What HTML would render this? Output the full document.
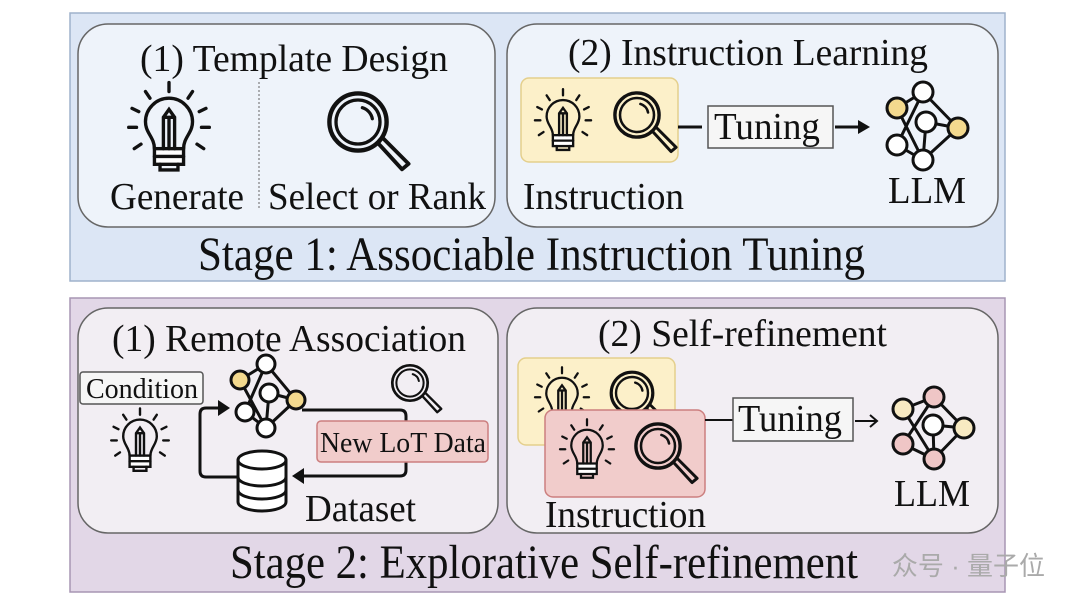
<!DOCTYPE html>
<html><head><meta charset="utf-8"><style>
body{margin:0;background:#fff;}
svg{display:block}
text{font-family:"Liberation Serif",serif;fill:#111}
</style></head><body>
<svg width="1080" height="609" viewBox="0 0 1080 609" xmlns="http://www.w3.org/2000/svg">
<defs>
<g id="bulb" fill="none" stroke="#111" stroke-width="3" stroke-linecap="round">
  <path d="M-13,22 C-13,12 -21,8 -21,-2 A21,21 0 1 1 21,-2 C21,8 13,12 13,22"/>
  <rect x="-13" y="22" width="26" height="14" fill="#fff"/>
  <line x1="-13" y1="29" x2="13" y2="29"/>
  <path d="M-8,36 L-8,41 L8,41 L8,36"/>
  <path d="M-5,22 L-5,-6 L0,-13 L5,-6 L5,22 M-5,-6 L5,-6 M0,-6 L0,22"/>
  <line x1="0" y1="-29" x2="0" y2="-37"/><line x1="-17" y1="-23" x2="-21" y2="-29"/><line x1="17" y1="-23" x2="21" y2="-29"/>
  <line x1="-27" y1="-11" x2="-33" y2="-14"/><line x1="27" y1="-11" x2="33" y2="-14"/>
  <line x1="-29" y1="3" x2="-36" y2="3"/><line x1="29" y1="3" x2="36" y2="3"/>
  <line x1="-25" y1="18" x2="-31" y2="22"/><line x1="25" y1="18" x2="31" y2="22"/>
</g>
<g id="mag" fill="none" stroke="#111" stroke-linecap="round">
  <circle cx="0" cy="0" r="26" stroke-width="4"/>
  <circle cx="0" cy="0" r="20" stroke-width="3"/>
  <path d="M4,-13 A13,13 0 0 1 13,-3" stroke-width="3"/>
  <path d="M18,19 L40,43 L46,38 L23,15" stroke-width="3.5" stroke-linejoin="round"/>
</g>
</defs>

<!-- Stage 1 -->
<rect x="70" y="13" width="935" height="268" fill="#dce6f5" stroke="#9fb2cc" stroke-width="1.5"/>
<rect x="78" y="24" width="417" height="203" rx="30" fill="#eef3fa" stroke="#666" stroke-width="1.5"/>
<rect x="507" y="24" width="491" height="203" rx="30" fill="#eef3fa" stroke="#666" stroke-width="1.5"/>
<text x="140" y="71" font-size="38" textLength="308" lengthAdjust="spacingAndGlyphs">(1) Template Design</text>
<text x="568" y="65" font-size="38" textLength="360" lengthAdjust="spacingAndGlyphs">(2) Instruction Learning</text>
<line x1="259" y1="82" x2="259" y2="208" stroke="#666" stroke-width="1" stroke-dasharray="2,2"/>
<use href="#bulb" transform="translate(169,124) scale(1.12)"/>
<use href="#mag" transform="translate(358,122) scale(1.1)"/>
<text x="110" y="209" font-size="38" textLength="134" lengthAdjust="spacingAndGlyphs">Generate</text>
<text x="268" y="209" font-size="38" textLength="218" lengthAdjust="spacingAndGlyphs">Select or Rank</text>
<rect x="521" y="78" width="157" height="84" rx="8" fill="#fcf0c9" stroke="#e4cf8c" stroke-width="1.5"/>
<use href="#bulb" transform="translate(563,118) scale(0.78)"/>
<use href="#mag" transform="translate(637,115) scale(0.85)"/>
<text x="523" y="209" font-size="38" textLength="161" lengthAdjust="spacingAndGlyphs">Instruction</text>
<line x1="678" y1="127" x2="702" y2="127" stroke="#111" stroke-width="3"/>
<rect x="708" y="106" width="125" height="42" fill="#f6f6f6" stroke="#555" stroke-width="1.5"/>
<text x="714" y="139" font-size="38" textLength="106" lengthAdjust="spacingAndGlyphs">Tuning</text>
<line x1="835" y1="127" x2="862" y2="127" stroke="#111" stroke-width="3"/>
<path d="M858,120 L870,127 L858,134 Z" fill="#111"/>
<g stroke="#111" stroke-width="3" fill="#fff">
  <path d="M897,108 L923,92 M897,108 L923,160 M897,145 L923,92 M897,145 L923,160 M923,92 L958,128 M926,122 L958,128 M926,122 L923,160 M923,160 L958,128" fill="none"/>
  <circle cx="923" cy="92" r="10"/><circle cx="926" cy="122" r="10"/><circle cx="923" cy="160" r="10"/><circle cx="897" cy="145" r="10"/>
  <circle cx="897" cy="108" r="10" fill="#f3d98e"/><circle cx="958" cy="128" r="10" fill="#f3d98e"/>
</g>
<text x="888" y="203" font-size="38" textLength="78" lengthAdjust="spacingAndGlyphs">LLM</text>
<text x="198" y="270" font-size="48" textLength="667" lengthAdjust="spacingAndGlyphs">Stage 1: Associable Instruction Tuning</text>

<!-- Stage 2 -->
<rect x="70" y="298" width="935" height="294" fill="#e2d7e7" stroke="#a795b3" stroke-width="1.5"/>
<rect x="78" y="308" width="420" height="225" rx="30" fill="#f2eef3" stroke="#666" stroke-width="1.5"/>
<rect x="507" y="308" width="491" height="225" rx="30" fill="#f2eef3" stroke="#666" stroke-width="1.5"/>
<text x="112" y="351" font-size="38" textLength="354" lengthAdjust="spacingAndGlyphs">(1) Remote Association</text>
<text x="598" y="346" font-size="38" textLength="289" lengthAdjust="spacingAndGlyphs">(2) Self-refinement</text>
<rect x="80" y="372" width="123" height="32" rx="3" fill="#f6f6f6" stroke="#555" stroke-width="1.5"/>
<text x="86" y="398" font-size="28" textLength="112" lengthAdjust="spacingAndGlyphs">Condition</text>
<use href="#bulb" transform="translate(140,438) scale(0.8)"/>
<g stroke="#111" stroke-width="3" fill="#fff">
  <path d="M240,380 L266,364 M240,380 L266,428 M245,412 L266,364 M245,412 L266,428 M266,364 L296,400 M269,393 L296,400 M269,393 L266,428 M266,428 L296,400" fill="none"/>
  <circle cx="266" cy="364" r="9"/><circle cx="269" cy="393" r="9"/><circle cx="266" cy="428" r="9"/><circle cx="245" cy="412" r="9"/>
  <circle cx="240" cy="380" r="9" fill="#f3d98e"/><circle cx="296" cy="400" r="9" fill="#f3d98e"/>
</g>
<use href="#mag" transform="translate(410,383) scale(0.68)"/>
<path d="M302,410 L400,410 Q406,410 406,416 L406,470 Q406,476 400,476 L300,476" fill="none" stroke="#111" stroke-width="3"/>
<path d="M304,468 L292,476 L304,484 Z" fill="#111"/>
<path d="M248,477 L206,477 Q200,477 200,471 L200,414 Q200,408 206,408 L222,408" fill="none" stroke="#111" stroke-width="3"/>
<path d="M218,400 L230,408 L218,416 Z" fill="#111"/>
<rect x="317" y="421" width="171" height="41" rx="4" fill="#f1cccb" stroke="#cc7f7f" stroke-width="1.5"/>
<text x="320" y="452" font-size="28" textLength="166" lengthAdjust="spacingAndGlyphs">New LoT Data</text>
<g fill="#fff" stroke="#111" stroke-width="3">
  <path d="M238,460 L238,502 A24,9 0 0 0 286,502 L286,460"/>
  <path d="M238,477 A24,9 0 0 0 286,477 M238,490 A24,9 0 0 0 286,490" fill="none"/>
  <ellipse cx="262" cy="460" rx="24" ry="9"/>
</g>
<text x="305" y="521" font-size="38" textLength="111" lengthAdjust="spacingAndGlyphs">Dataset</text>

<rect x="518" y="358" width="157" height="87" rx="8" fill="#fcf0c9" stroke="#e4cf8c" stroke-width="1.5"/>
<use href="#bulb" transform="translate(562,395) scale(0.75)"/>
<use href="#mag" transform="translate(632,393) scale(0.8)"/>
<rect x="545" y="410" width="160" height="87" rx="8" fill="#f1cccb" stroke="#cc7f7f" stroke-width="1.5"/>
<use href="#bulb" transform="translate(587,447) scale(0.75)"/>
<use href="#mag" transform="translate(658,446) scale(0.85)"/>
<text x="545" y="527" font-size="38" textLength="161" lengthAdjust="spacingAndGlyphs">Instruction</text>
<line x1="705" y1="420" x2="733" y2="420" stroke="#111" stroke-width="2"/>
<rect x="733" y="398" width="120" height="43" fill="#f6f6f6" stroke="#555" stroke-width="1.5"/>
<text x="738" y="431" font-size="38" textLength="104" lengthAdjust="spacingAndGlyphs">Tuning</text>
<path d="M855,421 L877,421 M870,415 L877,421 L870,427" fill="none" stroke="#111" stroke-width="2"/>
<g stroke="#111" stroke-width="3" fill="#fff">
  <path d="M903,409 L934,397 M903,409 L934,459 M903,444 L934,397 M903,444 L934,459 M934,397 L964,428 M933,425 L964,428 M933,425 L934,459 M934,459 L964,428" fill="none"/>
  <circle cx="933" cy="425" r="10"/>
  <circle cx="934" cy="397" r="10" fill="#efc6c6"/><circle cx="934" cy="459" r="10" fill="#efc6c6"/><circle cx="903" cy="444" r="10" fill="#efc6c6"/>
  <circle cx="903" cy="409" r="10" fill="#f8eac2"/><circle cx="964" cy="428" r="10" fill="#f8eac2"/>
</g>
<text x="894" y="506" font-size="38" textLength="76" lengthAdjust="spacingAndGlyphs">LLM</text>
<text x="230" y="578" font-size="48" textLength="628" lengthAdjust="spacingAndGlyphs">Stage 2: Explorative Self-refinement</text>
<text x="1045" y="575" font-size="26" text-anchor="end" style="font-family:'Liberation Sans','Noto Sans CJK SC',sans-serif;fill:#aaa">众号 · 量子位</text>
</svg>
</body></html>
